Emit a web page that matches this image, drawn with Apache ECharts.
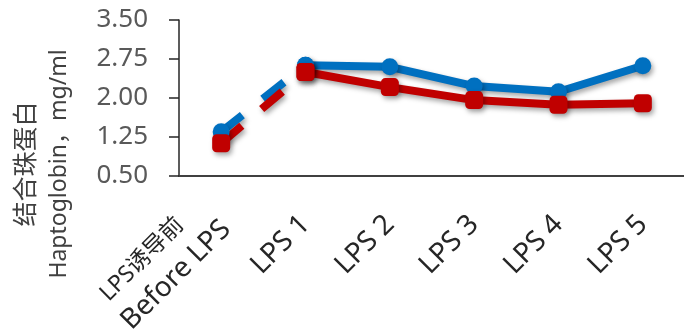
<!DOCTYPE html>
<html>
<head>
<meta charset="utf-8">
<script src="https://cdn.jsdelivr.net/npm/echarts@6/dist/echarts.min.js"></script>
<style>
html,body{margin:0;padding:0;background:#fff;}
#chart{width:684px;height:336px;}
</style>
</head>
<body>
<div id="chart"></div>
<script>
const categories = ['LPS诱导前\nBefore LPS', 'LPS 1', 'LPS 2', 'LPS 3', 'LPS 4', 'LPS 5'];
const blueValues = [1.35, 2.63, 2.60, 2.23, 2.12, 2.62];
const redValues = [1.13, 2.50, 2.21, 1.96, 1.87, 1.90];
const yTicks = [0.50, 1.25, 2.00, 2.75, 3.50];
const yTitle = ['结合珠蛋白', 'Haptoglobin，mg/ml'];

const BLUE = '#0070C0';
const RED = '#C00000';
const FONT = '"Noto Sans", "Noto Sans CJK SC", sans-serif';

function splitDashed(vals) {
  return vals.map((v, i) => (i <= 1 ? v : '-'));
}
function splitSolid(vals) {
  return vals.map((v, i) => (i >= 1 ? v : '-'));
}
const shadow = {shadowColor: 'rgba(0,0,0,0.35)', shadowBlur: 5, shadowOffsetX: 2, shadowOffsetY: 3};

function mkSeries(vals, color, symbol, symbolSize) {
  return [
    {
      type: 'line', data: splitDashed(vals), symbol: symbol, symbolSize: symbolSize,
      showSymbol: true, connectNulls: false, animation: false,
      lineStyle: Object.assign({color: color, width: 8, type: [27, 26], dashOffset: 0, cap: 'butt'}, shadow),
      itemStyle: Object.assign({color: color, borderWidth: 0}, shadow)
    },
    {
      type: 'line', data: splitSolid(vals), symbol: symbol, symbolSize: symbolSize,
      showSymbol: true, connectNulls: false, animation: false,
      lineStyle: Object.assign({color: color, width: 8, join: 'round'}, shadow),
      itemStyle: Object.assign({color: color, borderWidth: 0}, shadow)
    }
  ];
}

const chart = echarts.init(document.getElementById('chart'));
chart.setOption({
  backgroundColor: '#fff',
  animation: false,
  grid: {left: 179, top: 20, width: 506, height: 156, containLabel: false, outerBoundsMode: 'none'},
  xAxis: {
    type: 'category',
    data: categories,
    boundaryGap: true,
    axisLine: {lineStyle: {color: '#404040', width: 2}},
    axisTick: {alignWithLabel: true, length: 7, lineStyle: {color: '#404040', width: 1.5}},
    axisLabel: {
      interval: 0, rotate: 45, margin: 44, color: '#262626', fontFamily: FONT, fontSize: 28,
      formatter: function (v, i) {
        if (v.indexOf('\n') >= 0) {
          const p = v.split('\n');
          return '{a|' + p[0] + '     }\n{b|' + p[1] + '}\n{s| }';
        }
        return '{b|' + v + '}';
      },
      rich: {
        a: {fontSize: 23, fontFamily: FONT, color: '#262626', lineHeight: 38},
        b: {fontSize: 28, fontFamily: FONT, color: '#262626', lineHeight: 32},
        s: {fontSize: 10, fontFamily: FONT, color: '#262626', lineHeight: 24}
      }
    },
    splitLine: {show: false}
  },
  yAxis: {
    type: 'value',
    min: yTicks[0], max: yTicks[yTicks.length - 1], interval: yTicks[1] - yTicks[0],
    axisLine: {show: true, lineStyle: {color: '#262626', width: 1.5}},
    axisTick: {show: true, length: 10, lineStyle: {color: '#262626', width: 1.5}},
    axisLabel: {margin: 31, fontSize: 26, fontFamily: FONT, color: '#595959',
      formatter: function (v) { return v.toFixed(2); }},
    splitLine: {show: false}
  },
  graphic: [{
    type: 'text', x: 43, y: 164, rotation: Math.PI / 2,
    style: {text: '{c|' + yTitle[0] + '}\n{d|' + yTitle[1] + '}', fill: '#404040',
      align: 'center', verticalAlign: 'middle',
      rich: {
        c: {fontSize: 25, fontFamily: FONT, fill: '#404040', lineHeight: 33},
        d: {fontSize: 23, fontFamily: FONT, fill: '#404040', lineHeight: 33}
      }}
  }],
  series: [].concat(mkSeries(blueValues, BLUE, 'circle', 17), mkSeries(redValues, RED, 'roundRect', 18))
});
</script>
</body>
</html>
